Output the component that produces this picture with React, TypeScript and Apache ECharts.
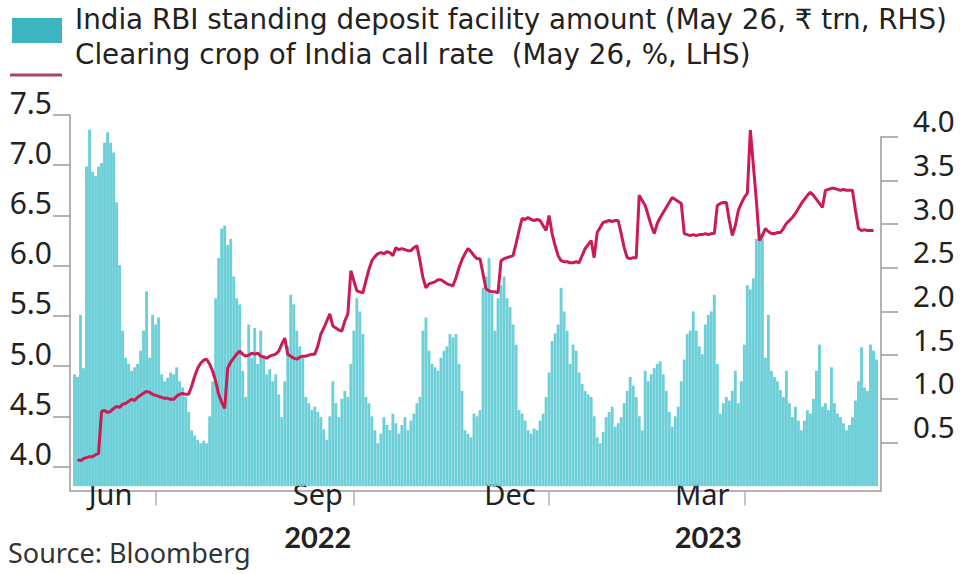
import React, { useEffect, useRef } from "react";
import * as echarts from "echarts";

// ---- data ----
const START_DATE = "2022-05-24";
const N_DAYS = 270;

const quarterTickDates = ["2022-07-01", "2022-10-03", "2023-01-02", "2023-04-03"];
const monthLabelDates = ["2022-06-10", "2022-09-15", "2022-12-14", "2023-03-14"];
const monthLabelTexts = ["Jun", "Sep", "Dec", "Mar"];
const yearLabelDates = ["2022-09-15", "2023-03-16"];
const yearLabelTexts = ["2022", "2023"];

const leftTicks = [4.0, 4.5, 5.0, 5.5, 6.0, 6.5, 7.0, 7.5];
const rightTicks = [0.5, 1.0, 1.5, 2.0, 2.5, 3.0, 3.5, 4.0];

const legendBarName = "India RBI standing deposit facility amount (May 26, \u20b9 trn, RHS)";
const legendLineName = "Clearing crop of India call rate  (May 26, %, LHS)";
const sourceText = "Source: Bloomberg";

// SDF amount, ₹ trn (RHS)
const sdfAmount: (number | null)[] = [
  null, 1.28, 1.25, 1.96, 1.35, 3.66, 4.08, 3.60, 3.55, 3.66,
  3.70, 3.93, 4.05, 3.93, 3.82, 3.25, 2.53, 1.78, 1.47, 1.40,
  1.32, 1.36, 1.40, 1.55, 1.78, 2.23, 1.47, 1.96, 1.85, 1.93,
  1.28, 1.20, 1.24, 1.30, 1.28, 1.36, 1.20, 1.13, 1.02, 0.85,
  0.64, 0.58, 0.53, 0.49, 0.52, 0.49, 0.80, 1.20, 2.15, 2.61,
  2.95, 2.98, 2.76, 2.83, 2.40, 2.15, 2.08, 1.32, 1.02, 1.85,
  1.47, 1.81, 1.40, 1.78, 1.50, 1.28, 1.34, 1.20, 1.28, 1.05,
  0.79, 1.20, 1.60, 2.19, 2.08, 1.78, 1.60, 1.47, 1.02, 0.95,
  0.87, 0.91, 0.85, 0.79, 0.65, 0.53, 0.80, 1.20, 0.95, 0.79,
  1.00, 1.09, 1.02, 1.40, 1.78, 2.15, 2.00, 1.74, 1.02, 0.95,
  0.80, 0.64, 0.49, 0.60, 0.79, 0.70, 0.64, 0.83, 0.72, 0.60,
  0.70, 0.79, 0.64, 0.75, 0.83, 0.95, 1.02, 1.78, 1.93, 1.55,
  1.40, 1.36, 1.32, 1.47, 1.55, 1.60, 1.74, 1.70, 1.74, 1.40,
  1.09, 0.64, 0.60, 0.56, 0.83, 0.80, 0.87, 2.27, 2.40, 2.61,
  2.20, 1.78, 2.15, 2.30, 2.40, 2.15, 2.05, 1.85, 1.62, 0.87,
  0.83, 0.75, 0.64, 0.60, 0.66, 0.64, 0.75, 0.83, 1.02, 1.30,
  1.66, 1.75, 1.85, 2.27, 2.00, 1.78, 1.40, 1.62, 1.55, 1.30,
  1.17, 1.09, 1.05, 1.02, 0.80, 0.56, 0.49, 0.62, 0.79, 0.85,
  0.91, 0.68, 0.72, 0.79, 0.95, 1.09, 1.25, 1.15, 1.02, 0.80,
  0.64, 1.32, 1.20, 1.28, 1.35, 1.40, 1.43, 1.28, 1.09, 0.85,
  0.68, 0.80, 0.91, 1.20, 1.45, 1.74, 1.78, 2.00, 1.78, 1.60,
  1.51, 1.85, 1.96, 2.00, 2.19, 1.40, 0.83, 0.95, 1.02, 0.98,
  1.09, 1.32, 0.95, 1.20, 1.62, 2.30, 2.25, 2.38, 2.83, 2.90,
  2.85, 1.47, 1.96, 1.32, 1.25, 1.20, 1.10, 1.02, 1.32, 0.95,
  0.79, 0.91, 0.75, 0.64, 0.75, 0.87, 0.83, 1.00, 1.32, 1.62,
  0.91, 0.95, 0.87, 1.36, 0.95, 0.83, 0.79, 0.72, 0.64, 0.70,
  0.79, 0.98, 1.20, 1.59, 1.13, 1.09, 1.62, 1.55, 1.45, null,
];

// Call rate, % (LHS)
const callRate: (number | null)[] = [
  null, null, 4.07, 4.06, 4.08, 4.09, 4.10, 4.10, 4.12, 4.13,
  4.55, 4.56, 4.54, 4.55, 4.58, 4.60, 4.59, 4.62, 4.63, 4.65,
  4.67, 4.66, 4.69, 4.71, 4.73, 4.75, 4.74, 4.72, 4.71, 4.70,
  4.69, 4.68, 4.68, 4.67, 4.67, 4.70, 4.72, 4.73, 4.72, 4.72,
  4.80, 4.90, 4.98, 5.03, 5.06, 5.07, 5.02, 4.95, 4.85, 4.72,
  4.64, 4.58, 4.98, 5.04, 5.08, 5.12, 5.15, 5.12, 5.10, 5.11,
  5.13, 5.12, 5.13, 5.10, 5.09, 5.08, 5.10, 5.11, 5.12, 5.15,
  5.22, 5.28, 5.12, 5.10, 5.08, 5.07, 5.09, 5.10, 5.10, 5.11,
  5.12, 5.12, 5.20, 5.32, 5.38, 5.45, 5.52, 5.40, 5.38, 5.36,
  5.35, 5.45, 5.52, 5.95, 5.85, 5.75, 5.74, 5.73, 5.85, 5.96,
  6.05, 6.09, 6.12, 6.13, 6.12, 6.14, 6.13, 6.10, 6.18, 6.16,
  6.17, 6.16, 6.15, 6.15, 6.18, 6.20, 6.05, 5.88, 5.78, 5.82,
  5.83, 5.84, 5.86, 5.86, 5.84, 5.82, 5.81, 5.80, 5.88, 5.98,
  6.06, 6.12, 6.17, 6.14, 6.10, 6.07, 6.07, 5.92, 5.77, 5.75,
  5.74, 5.74, 5.73, 6.05, 6.07, 6.08, 6.09, 6.10, 6.22, 6.35,
  6.47, 6.46, 6.48, 6.46, 6.45, 6.46, 6.45, 6.40, 6.35, 6.50,
  6.32, 6.20, 6.10, 6.05, 6.04, 6.04, 6.03, 6.03, 6.04, 6.03,
  6.10, 6.17, 6.21, 6.25, 6.08, 6.33, 6.38, 6.43, 6.44, 6.45,
  6.44, 6.45, 6.45, 6.32, 6.18, 6.08, 6.07, 6.08, 6.08, 6.70,
  6.65, 6.60, 6.50, 6.40, 6.32, 6.42, 6.48, 6.53, 6.58, 6.63,
  6.68, 6.66, 6.64, 6.62, 6.32, 6.31, 6.30, 6.31, 6.30, 6.31,
  6.31, 6.32, 6.31, 6.32, 6.32, 6.60, 6.62, 6.63, 6.63, 6.45,
  6.30, 6.40, 6.55, 6.62, 6.68, 6.72, 7.35, 7.00, 6.65, 6.25,
  6.30, 6.37, 6.34, 6.32, 6.32, 6.33, 6.33, 6.37, 6.42, 6.45,
  6.48, 6.52, 6.57, 6.62, 6.66, 6.70, 6.73, 6.70, 6.66, 6.62,
  6.58, 6.75, 6.76, 6.77, 6.77, 6.76, 6.75, 6.76, 6.75, 6.75,
  6.75, 6.55, 6.37, 6.35, 6.36, 6.35, 6.35, 6.35, null, null,
];

// business-day calendar for the category axis
function businessDays(start: string, n: number): string[] {
  const out: string[] = [];
  const d = new Date(start + "T00:00:00Z");
  while (out.length < n) {
    const wd = d.getUTCDay();
    if (wd !== 0 && wd !== 6) out.push(d.toISOString().slice(0, 10));
    d.setUTCDate(d.getUTCDate() + 1);
  }
  return out;
}
const dates = businessDays(START_DATE, N_DAYS);

const FONT = "'Noto Sans', 'Open Sans', 'DejaVu Sans', sans-serif";
const LEGEND_FONT = "'DejaVu Sans', 'Noto Sans', sans-serif";
const YEAR_FONT = "Lato, 'Noto Sans', sans-serif";
const TEXT = "#222222";
const AXIS = "#9a9a9a";
const BAR = "#6dcfd8";
const LINE = "#cc1a52";

export default function App() {
  const ref = useRef<HTMLDivElement>(null);
  useEffect(() => {
    if (!ref.current) return;
    const chart = echarts.init(ref.current, null, { renderer: "svg" });
    const tickSet = new Set(quarterTickDates);
    const option: any = {
      animation: false,
      backgroundColor: "#ffffff",
      textStyle: { fontFamily: FONT },
      grid: [
        { left: 70, right: 81, top: 115, bottom: 83.5 },
        { left: 70, right: 81, top: 136.7, bottom: 83.5 },
      ],
      xAxis: [
        {
          type: "category",
          gridIndex: 0,
          data: dates,
          boundaryGap: true,
          axisLine: { show: true, lineStyle: { color: AXIS, width: 1.5 } },
          axisTick: {
            show: true,
            alignWithLabel: true,
            interval: (_i: number, v: string) => tickSet.has(v),
            length: 15,
            lineStyle: { color: "#b0b0b0", width: 1.5 },
          },
          axisLabel: {
            interval: (_i: number, v: string) => monthLabelDates.includes(v),
            formatter: (v: string) => {
              const k = monthLabelDates.indexOf(v);
              return k >= 0 ? monthLabelTexts[k] : "";
            },
            fontSize: 29,
            color: TEXT,
            fontFamily: FONT,
            margin: -12,
          },
          splitLine: { show: false },
        },
        {
          type: "category",
          gridIndex: 0,
          data: dates,
          position: "bottom",
          axisLine: { show: false },
          axisTick: { show: false },
          axisLabel: {
            interval: (_i: number, v: string) => yearLabelDates.includes(v),
            formatter: (v: string) => {
              const k = yearLabelDates.indexOf(v);
              return k >= 0 ? yearLabelTexts[k] : "";
            },
            fontSize: 29,
            fontWeight: "bold",
            color: TEXT,
            fontFamily: YEAR_FONT,
            margin: 31,
          },
          splitLine: { show: false },
        },
        {
          type: "category",
          gridIndex: 1,
          data: dates,
          show: false,
        },
      ],
      yAxis: [
        {
          type: "value",
          gridIndex: 0,
          position: "left",
          min: 3.763,
          max: 7.5,
          minInterval: 0.5,
          maxInterval: 0.5,
          axisLine: { show: true, lineStyle: { color: AXIS, width: 1.5 } },
          axisTick: {
            show: true,
            length: 17,
            customValues: leftTicks,
            lineStyle: { color: AXIS, width: 1.5 },
          },
          axisLabel: {
            customValues: leftTicks,
            formatter: (v: number) => (v < 3.9 ? "" : v.toFixed(1)),
            fontSize: 30,
            color: TEXT,
            fontFamily: FONT,
            margin: 18,
            verticalAlign: "bottom",
            lineHeight: 26,
          },
          splitLine: { show: false },
        },
        {
          type: "value",
          gridIndex: 1,
          position: "right",
          min: -0.05,
          max: 4.0,
          axisLine: { show: true, lineStyle: { color: AXIS, width: 1.5 } },
          axisTick: {
            show: true,
            length: 17,
            customValues: rightTicks,
            lineStyle: { color: AXIS, width: 1.5 },
          },
          axisLabel: {
            customValues: rightTicks,
            formatter: (v: number) => (v < 0.4 ? "" : v.toFixed(1)),
            fontSize: 29.5,
            color: TEXT,
            fontFamily: FONT,
            margin: 32,
            verticalAlign: "bottom",
            lineHeight: 32,
          },
          splitLine: { show: false },
        },
      ],
      series: [
        {
          name: legendBarName,
          type: "bar",
          xAxisIndex: 2,
          yAxisIndex: 1,
          data: sdfAmount,
          barCategoryGap: "4%",
          itemStyle: { color: BAR },
          clip: false,
          z: 2,
        },
        {
          name: legendLineName,
          type: "line",
          xAxisIndex: 0,
          yAxisIndex: 0,
          data: callRate,
          showSymbol: false,
          symbol: "none",
          lineStyle: { color: LINE, width: 3 },
          connectNulls: false,
          z: 3,
        },
      ],
      graphic: [
        {
          type: "rect",
          left: 12,
          top: 18,
          shape: { width: 50, height: 25 },
          style: { fill: "#3db5c1" },
        },
        {
          type: "line",
          shape: { x1: 10, y1: 75, x2: 62, y2: 75 },
          style: { stroke: "#a8456f", lineWidth: 3 },
        },
        {
          type: "text",
          x: 75,
          y: 19,
          style: {
            text: legendBarName,
            fontSize: 27.75,
            lineHeight: 32,
            fontFamily: LEGEND_FONT,
            fill: TEXT,
            verticalAlign: "middle",
          },
        },
        {
          type: "text",
          x: 75,
          y: 54,
          style: {
            text: legendLineName,
            fontSize: 27.75,
            lineHeight: 32,
            fontFamily: LEGEND_FONT,
            fill: TEXT,
            verticalAlign: "middle",
          },
        },
        {
          type: "text",
          x: 8,
          y: 568,
          style: {
            text: sourceText,
            fontSize: 27,
            lineHeight: 32,
            fontFamily: FONT,
            fill: "#333333",
            verticalAlign: "bottom",
          },
        },
      ],
    };
    chart.setOption(option);
    return () => chart.dispose();
  }, []);
  return (
    <div
      ref={ref}
      style={{ position: "fixed", left: 0, top: 0, width: 962, height: 574 }}
    />
  );
}
